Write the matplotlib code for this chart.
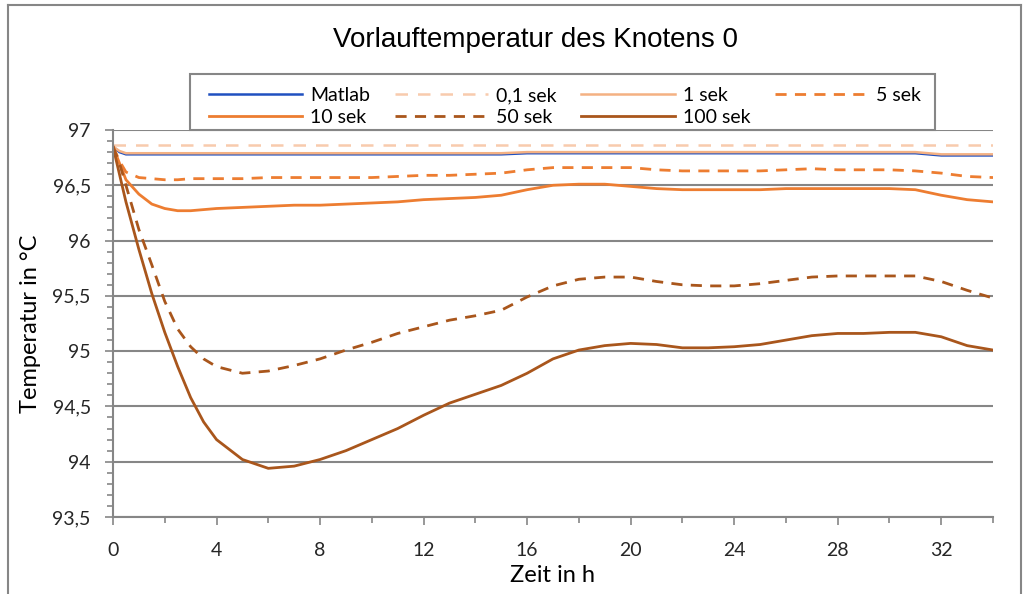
import matplotlib.pyplot as plt
from matplotlib.ticker import MultipleLocator, FuncFormatter
from matplotlib.lines import Line2D

# time axis (hours)
zeit = [0, 0.25, 0.5, 1, 1.5, 2, 2.5, 3, 3.5, 4, 5, 6, 7, 8, 9, 10, 11, 12, 13, 14, 15,
        16, 17, 18, 19, 20, 21, 22, 23, 24, 25, 26, 27, 28, 29, 30, 31, 32, 33, 34]

matlab = [96.85, 96.80, 96.78, 96.78, 96.78, 96.78, 96.78, 96.78, 96.78, 96.78, 96.78, 96.78,
          96.78, 96.78, 96.78, 96.78, 96.78, 96.78, 96.78, 96.78, 96.78, 96.79, 96.79, 96.79,
          96.79, 96.79, 96.79, 96.79, 96.79, 96.79, 96.79, 96.79, 96.79, 96.79, 96.79, 96.79,
          96.79, 96.77, 96.77, 96.77]
sek_01 = [96.86] * len(zeit)
sek_1 = [96.85, 96.81, 96.79, 96.79, 96.79, 96.79, 96.79, 96.79, 96.79, 96.79, 96.79, 96.79,
         96.79, 96.79, 96.79, 96.79, 96.79, 96.79, 96.79, 96.79, 96.79, 96.80, 96.80, 96.80,
         96.80, 96.80, 96.80, 96.80, 96.80, 96.80, 96.80, 96.80, 96.80, 96.80, 96.80, 96.80,
         96.80, 96.78, 96.78, 96.78]
sek_5 = [96.85, 96.72, 96.62, 96.57, 96.56, 96.55, 96.55, 96.56, 96.56, 96.56, 96.56, 96.57,
         96.57, 96.57, 96.57, 96.57, 96.58, 96.59, 96.59, 96.60, 96.61, 96.64, 96.66, 96.66,
         96.66, 96.66, 96.64, 96.63, 96.63, 96.63, 96.63, 96.64, 96.65, 96.64, 96.64, 96.64,
         96.63, 96.61, 96.58, 96.57]
sek_10 = [96.85, 96.70, 96.55, 96.42, 96.33, 96.29, 96.27, 96.27, 96.28, 96.29, 96.30, 96.31,
          96.32, 96.32, 96.33, 96.34, 96.35, 96.37, 96.38, 96.39, 96.41, 96.46, 96.50, 96.51,
          96.51, 96.49, 96.47, 96.46, 96.46, 96.46, 96.46, 96.47, 96.47, 96.47, 96.47, 96.47,
          96.46, 96.41, 96.37, 96.35]
sek_50 = [96.85, 96.70, 96.50, 96.10, 95.78, 95.45, 95.20, 95.04, 94.93, 94.86, 94.80, 94.82,
          94.87, 94.93, 95.01, 95.08, 95.16, 95.22, 95.28, 95.32, 95.37, 95.49, 95.59, 95.65,
          95.67, 95.67, 95.63, 95.60, 95.59, 95.59, 95.61, 95.64, 95.67, 95.68, 95.68, 95.68,
          95.68, 95.63, 95.55, 95.48]
sek_100 = [96.85, 96.60, 96.35, 95.92, 95.52, 95.17, 94.86, 94.58, 94.36, 94.20, 94.02, 93.94,
           93.96, 94.02, 94.10, 94.20, 94.30, 94.42, 94.53, 94.61, 94.69, 94.80, 94.93, 95.01,
           95.05, 95.07, 95.06, 95.03, 95.03, 95.04, 95.06, 95.10, 95.14, 95.16, 95.16, 95.17,
           95.17, 95.13, 95.05, 95.01]

font = ['Lato', 'DejaVu Sans']
grau = '#868686'

fig = plt.figure(figsize=(10.29, 5.94), dpi=100)
ax = fig.add_axes([113/1029, 1 - 517/594, 880/1029, 387/594])

l_matlab, = ax.plot(zeit, matlab, color='#2050c0', lw=1.8, label='Matlab')
l_01, = ax.plot(zeit, sek_01, color='#f8cbad', lw=1.8, ls=(0, (5, 4)), label='0,1 sek')
l_1, = ax.plot(zeit, sek_1, color='#f4b183', lw=1.8, label='1 sek')
l_5, = ax.plot(zeit, sek_5, color='#ed7d31', lw=2, ls=(0, (4, 3)), label='5 sek')
l_10, = ax.plot(zeit, sek_10, color='#ed7d31', lw=2, label='10 sek')
l_50, = ax.plot(zeit, sek_50, color='#a9561c', lw=2, ls=(0, (4, 3)), label='50 sek')
l_100, = ax.plot(zeit, sek_100, color='#a9561c', lw=2, label='100 sek')

ax.set_xlim(0, 34)
ax.set_ylim(93.5, 97)
ax.xaxis.set_major_locator(MultipleLocator(4))
ax.xaxis.set_minor_locator(MultipleLocator(2))
ax.yaxis.set_major_locator(MultipleLocator(0.5))
ax.yaxis.set_minor_locator(MultipleLocator(0.1))
ax.yaxis.set_major_formatter(FuncFormatter(lambda v, p: ('%g' % v).replace('.', ',')))

ax.grid(axis='y', which='major', color=grau, lw=1.5)
ax.set_axisbelow(True)
for s in ['top', 'right']:
    ax.spines[s].set_visible(False)
for s in ['left', 'bottom']:
    ax.spines[s].set_color(grau)
    ax.spines[s].set_linewidth(1.5)
ax.tick_params(which='both', color=grau, width=1.2, direction='out')
ax.tick_params(which='major', length=6, labelsize=14, labelcolor='#262626')
ax.tick_params(axis='x', which='major', pad=12)
ax.tick_params(axis='y', which='major', pad=10)
ax.tick_params(which='minor', length=4)
for lab in ax.get_xticklabels() + ax.get_yticklabels():
    lab.set_family(font)

ax.set_xlabel('Zeit in h', fontsize=17, family=font, labelpad=4)
ax.set_ylabel('Temperatur in °C', fontsize=17, family=font, labelpad=8)
fig.suptitle('Vorlauftemperatur des Knotens 0', x=0.52, y=0.955, fontsize=20,
             family=['Liberation Sans', 'DejaVu Sans'])

# legend filled column by column -> reorder so it reads row by row
handles = [l_matlab, l_10, l_01, l_50, l_1, l_100, l_5]
leg = fig.legend(handles, [h.get_label() for h in handles], loc='lower left',
                 bbox_to_anchor=(205/1029, 1 - 130/594, 720/1029, 56/594),
                 mode='expand', ncol=4, handlelength=4.8, borderaxespad=0,
                 fancybox=False, frameon=False, prop={'family': font, 'size': 14},
                 borderpad=0.2, labelspacing=0.25, handletextpad=0.4)
# legend frame drawn separately so it can be wider than the entries
fig.add_artist(plt.Rectangle((190/1029, 1 - 130/594), 745/1029, 56/594, fill=True,
                             facecolor='white', edgecolor=grau, lw=1.5,
                             transform=fig.transFigure, zorder=4))
leg.set_zorder(5)

# outer chart border
for xs, ys in [([8/1029, 8/1029], [0, 1 - 5/594]), ([8/1029, 1021/1029], [1 - 5/594, 1 - 5/594]),
               ([1021/1029, 1021/1029], [0, 1 - 5/594])]:
    fig.add_artist(Line2D(xs, ys, color=grau, lw=1.5, transform=fig.transFigure))

fig.savefig('out.png', dpi=100)
